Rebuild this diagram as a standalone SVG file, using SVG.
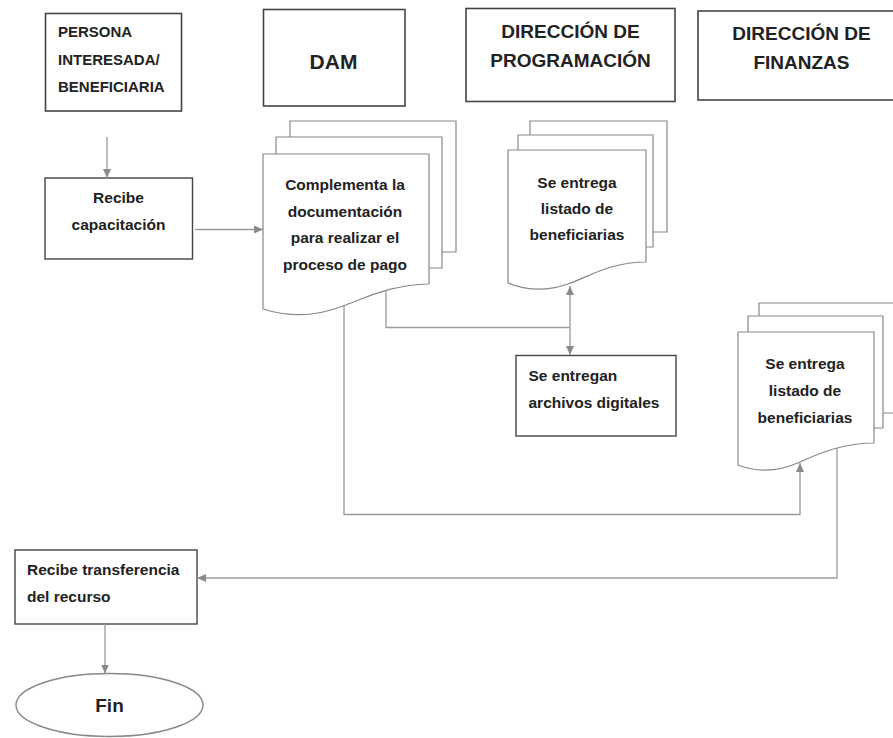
<svg xmlns="http://www.w3.org/2000/svg" width="893" height="738" viewBox="0 0 893 738">
<style>
.bg{fill:#ffffff}
.hdr{fill:#ffffff;stroke:#444;stroke-width:1.6}
.box{fill:#ffffff;stroke:#444;stroke-width:1.4}
.doc{fill:#ffffff;stroke:#888;stroke-width:1.2}
.con{fill:none;stroke:#9a9a9a;stroke-width:1.3}
text{font-family:"Liberation Sans",Arial,sans-serif;font-weight:bold;fill:#222}
.t{font-size:15.5px}
.tc{font-size:15.5px;text-anchor:middle}
.th{font-size:19px;text-anchor:middle}
.tp{font-size:15px}
</style>
<defs>
<marker id="arr" markerUnits="userSpaceOnUse" markerWidth="10" markerHeight="8" refX="9" refY="4" orient="auto-start-reverse">
<path d="M0,0 L9,4 L0,8 Z" fill="#8a8a8a"/>
</marker>
</defs>
<rect class="bg" x="0" y="0" width="893" height="738"/>

<g id="persona">
<rect class="hdr" x="45.5" y="13.5" width="136" height="97.5"/>
<text class="tp" x="58" y="37">PERSONA</text>
<text class="tp" x="58" y="64.5">INTERESADA/</text>
<text class="tp" x="58" y="91.5">BENEFICIARIA</text>
</g>

<g id="dam">
<rect class="hdr" x="263.5" y="9.5" width="141.5" height="96.5"/>
<text x="333.5" y="68.5" style="font-size:21px;text-anchor:middle">DAM</text>
</g>

<g id="programacion">
<rect class="hdr" x="466" y="8.5" width="209" height="93"/>
<text class="th" x="570.5" y="38">DIRECCIÓN DE</text>
<text class="th" x="570.5" y="67">PROGRAMACIÓN</text>
</g>

<g id="finanzas">
<rect class="hdr" x="698" y="11" width="210" height="89"/>
<text class="th" x="801.5" y="40">DIRECCIÓN DE</text>
<text class="th" x="801.5" y="68.5">FINANZAS</text>
</g>

<g id="recibe-capacitacion">
<rect class="box" x="45" y="178" width="147.5" height="81"/>
<text class="tc" x="118.5" y="203">Recibe</text>
<text class="tc" x="118.5" y="229.5">capacitación</text>
</g>

<g id="complementa">
<path class="doc" d="M290,137 L290,121 L456,121 L456,252 L442,252"/>
<path class="doc" d="M276,154 L276,137 L442,137 L442,268 L429,268"/>
<path class="doc" d="M263,154 L429,154 L429,284 C392,285 372,295 343,306 C315,317 288,317 263,309 Z"/>
<text class="tc" x="345" y="190">Complementa la</text>
<text class="tc" x="345" y="216.5">documentación</text>
<text class="tc" x="345" y="243">para realizar el</text>
<text class="tc" x="345" y="270">proceso de pago</text>
</g>

<g id="listado-programacion">
<path class="doc" d="M530,135 L530,121 L667,121 L667,232 L653,232"/>
<path class="doc" d="M518,150 L518,135 L653,135 L653,247 L646,247"/>
<path class="doc" d="M508,150 L646,150 L646,262 C612,262 592,275 568,284 C545,292 525,290 508,283 Z"/>
<text class="tc" x="577" y="187.5">Se entrega</text>
<text class="tc" x="577" y="213.5">listado de</text>
<text class="tc" x="577" y="240">beneficiarias</text>
</g>

<g id="archivos-digitales">
<rect class="box" x="516" y="355.5" width="160" height="80.5"/>
<text class="t" x="528.5" y="381">Se entregan</text>
<text class="t" x="528.5" y="407.5">archivos digitales</text>
</g>

<g id="listado-finanzas">
<path class="doc" d="M759,316 L759,303 L900,303 L900,413 L883,413"/>
<path class="doc" d="M748,332 L748,316 L883,316 L883,428 L874,428"/>
<path class="doc" d="M738,332 L874,332 L874,443 C845,443 822,452 800,462 C778,472 756,472 738,465 Z"/>
<text class="tc" x="805" y="368.5">Se entrega</text>
<text class="tc" x="805" y="395.5">listado de</text>
<text class="tc" x="805" y="422.5">beneficiarias</text>
</g>

<g id="recibe-transferencia">
<rect class="box" x="15" y="550" width="182" height="74"/>
<text class="t" x="27" y="574.5">Recibe transferencia</text>
<text class="t" x="27" y="602">del recurso</text>
</g>

<g id="fin">
<ellipse class="box" cx="109.5" cy="705" rx="93.5" ry="31.5" style="stroke:#888"/>
<text x="109.5" y="712" style="font-size:19px;text-anchor:middle">Fin</text>
</g>

<g id="connectors">
<path class="con" d="M107,137 L107,178" marker-end="url(#arr)"/>
<path class="con" d="M195,229.5 L263,229.5" marker-end="url(#arr)"/>
<path class="con" d="M386,291 L386,327.5 L570,327.5"/>
<path class="con" d="M570,286 L570,355" marker-start="url(#arr)" marker-end="url(#arr)"/>
<path class="con" d="M344,306 L344,514.5 L800,514.5 L800,463" marker-end="url(#arr)"/>
<path class="con" d="M837,448 L837,578 L197,578" marker-end="url(#arr)"/>
<path class="con" d="M105,624 L105,673.5" marker-end="url(#arr)"/>
</g>
</svg>
